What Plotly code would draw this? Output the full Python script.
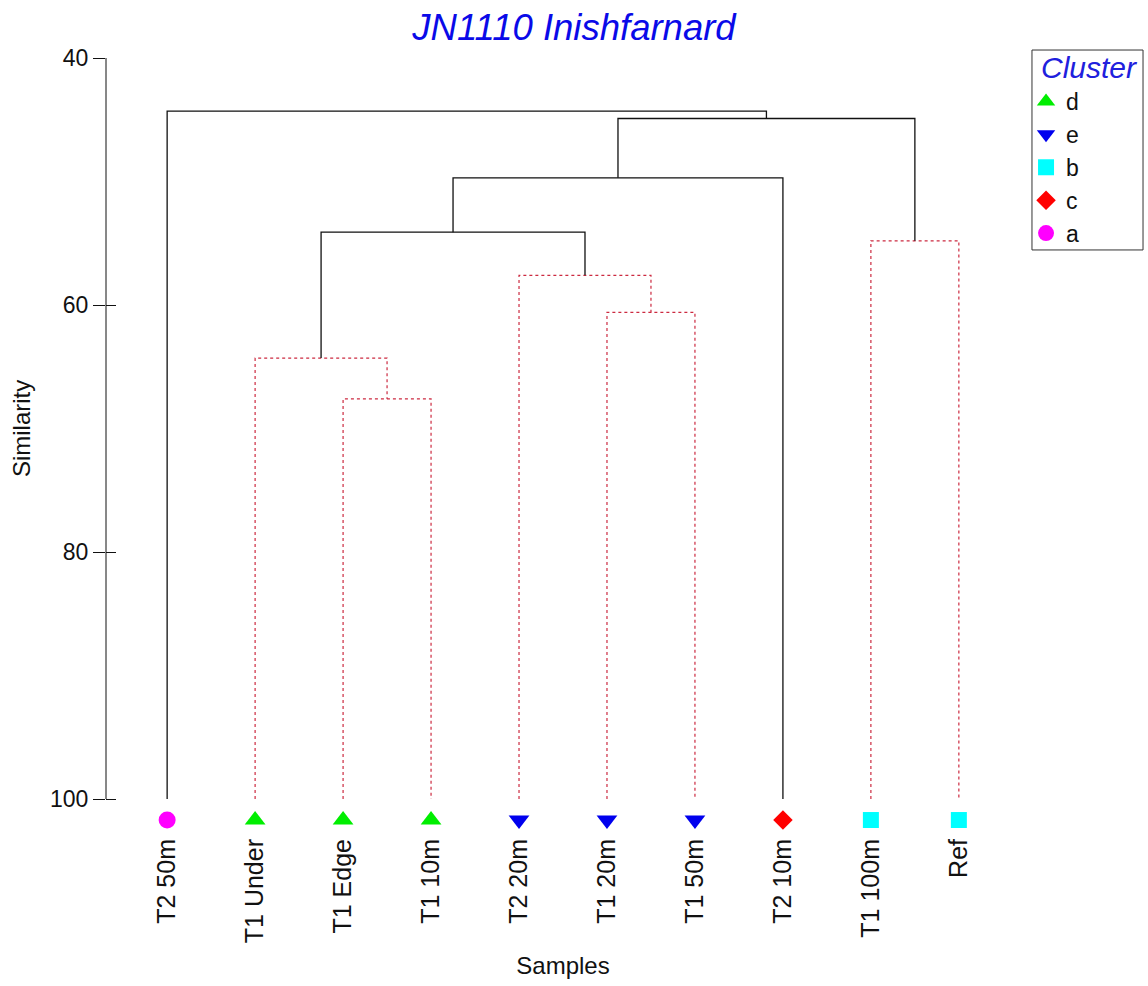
import plotly.graph_objects as go

# ---- data ----
leaves = ["T2 50m", "T1 Under", "T1 Edge", "T1 10m", "T2 20m",
          "T1 20m", "T1 50m", "T2 10m", "T1 100m", "Ref"]
leaf_cluster = ["a", "d", "d", "d", "e", "e", "e", "c", "b", "b"]
# merges: (left node, right node, similarity, significant structure)
merge_left = [2, 1, 5, 4, 8, 11, 15, 16, 0]
merge_right = [3, 10, 6, 12, 9, 13, 7, 14, 17]
merge_height = [67.6, 64.3, 60.6, 57.6, 54.8, 54.1, 49.7, 44.9, 44.3]
merge_signif = [False, False, False, False, False, True, True, True, True]

legend_order = ["d", "e", "b", "c", "a"]
cluster_symbol = {"d": "triangle-up", "e": "triangle-down", "b": "square",
                  "c": "diamond", "a": "circle"}
cluster_color = {"d": "#00ee00", "e": "#0000ee", "b": "#00ffff",
                 "c": "#ff0000", "a": "#ff00ff"}
cluster_size = {"d": 18, "e": 18, "b": 16, "c": 15, "a": 17}
marker_level = 101.7
y_ticks = [40, 60, 80, 100]

# ---- build dendrogram ----
n = len(leaves)
pos = {i: float(i) for i in range(n)}
hgt = {i: 100.0 for i in range(n)}
black_x, black_y, red_x, red_y = [], [], [], []
for k, (l, r, h, s) in enumerate(zip(merge_left, merge_right, merge_height, merge_signif)):
    node = n + k
    xs = [pos[l], pos[l], pos[r], pos[r], None]
    ys = [hgt[l], h, h, hgt[r], None]
    if s:
        black_x += xs; black_y += ys
    else:
        red_x += xs; red_y += ys
    pos[node] = (pos[l] + pos[r]) / 2
    hgt[node] = h

fig = go.Figure()
fig.add_trace(go.Scatter(x=red_x, y=red_y, mode="lines", showlegend=False,
                         line=dict(color="#cc2a40", width=1.2, dash="dot"),
                         hoverinfo="skip"))
fig.add_trace(go.Scatter(x=black_x, y=black_y, mode="lines", showlegend=False,
                         line=dict(color="#111111", width=1.3),
                         hoverinfo="skip"))
for c in legend_order:
    idx = [i for i in range(n) if leaf_cluster[i] == c]
    fig.add_trace(go.Scatter(
        x=[float(i) for i in idx], y=[marker_level] * len(idx),
        mode="markers", name=c, cliponaxis=False,
        marker=dict(symbol=cluster_symbol[c], color=cluster_color[c],
                    size=cluster_size[c], line=dict(width=0))))

# y axis line only spanning the similarity scale
fig.add_shape(type="line", xref="paper", x0=0, x1=0, yref="y",
              y0=min(y_ticks), y1=max(y_ticks),
              line=dict(color="#111111", width=1))
# legend frame
fig.add_shape(type="rect", xref="paper", yref="paper",
              x0=1.0131, x1=1.1346, y0=0.7523, y1=1.0103,
              line=dict(color="#333333", width=1), fillcolor="rgba(0,0,0,0)")

font = "Liberation Sans, Arial, sans-serif"
fig.add_annotation(text="Cluster", xref="paper", yref="paper",
                   x=1.0208, y=0.9871, xanchor="left", yanchor="middle",
                   showarrow=False,
                   font=dict(family=font, size=30, color="#2020dd", style="italic"))
fig.add_annotation(text="Similarity", xref="paper", yref="y",
                   x=-0.0924, y=70, xanchor="center", yanchor="middle",
                   textangle=-90, showarrow=False,
                   font=dict(family=font, size=24, color="#111111"))

fig.update_layout(
    width=1148, height=986,
    margin=dict(l=106, r=128, t=58, b=153, autoexpand=False),
    paper_bgcolor="white", plot_bgcolor="white",
    font=dict(family=font, size=24, color="#111111"),
    title=dict(text="JN1110 Inishfarnard", x=0.5, xanchor="center",
               y=0.9726, yanchor="middle",
               font=dict(family=font, size=36.5, color="#0a0ae8", style="italic")),
    showlegend=True,
    legend=dict(x=1.0066, xanchor="left", y=0.9716, yanchor="top",
                borderwidth=0, bgcolor="rgba(0,0,0,0)",
                font=dict(family=font, size=23, color="#111111"),
                tracegroupgap=0, itemsizing="trace"),
    xaxis=dict(range=[-0.695, 9.695], showgrid=False, zeroline=False, showline=False,
               automargin=False,
               tickmode="array", tickvals=list(range(n)), ticktext=leaves,
               tickangle=-90, ticks="", ticklabelstandoff=0,
               tickfont=dict(family=font, size=25, color="#111111"),
               title=dict(text="Samples", standoff=14,
                          font=dict(family=font, size=24, color="#111111"))),
    yaxis=dict(range=[102.75, 40], showgrid=False, zeroline=False,
               showline=False, automargin=False,
               tickmode="array", tickvals=y_ticks,
               ticks="outside", ticklen=12, tickcolor="#111111", tickwidth=1,
               tickfont=dict(family=font, size=23, color="#111111")),
    yaxis2=dict(overlaying="y", matches="y", side="left", anchor="x",
                showgrid=False, zeroline=False, showline=False, automargin=False,
                tickmode="array", tickvals=y_ticks, showticklabels=False,
                ticks="inside", ticklen=10, tickcolor="#111111", tickwidth=1),
)
# invisible trace to activate the second y axis (inside tick half)
fig.add_trace(go.Scatter(x=[pos[0]], y=[hgt[0]], yaxis="y2", mode="markers",
                         marker=dict(opacity=0), showlegend=False, hoverinfo="skip"))

fig.write_html("out.html", config={"displayModeBar": False},
               post_script="document.body.style.margin='0';document.body.style.overflow='hidden';")
